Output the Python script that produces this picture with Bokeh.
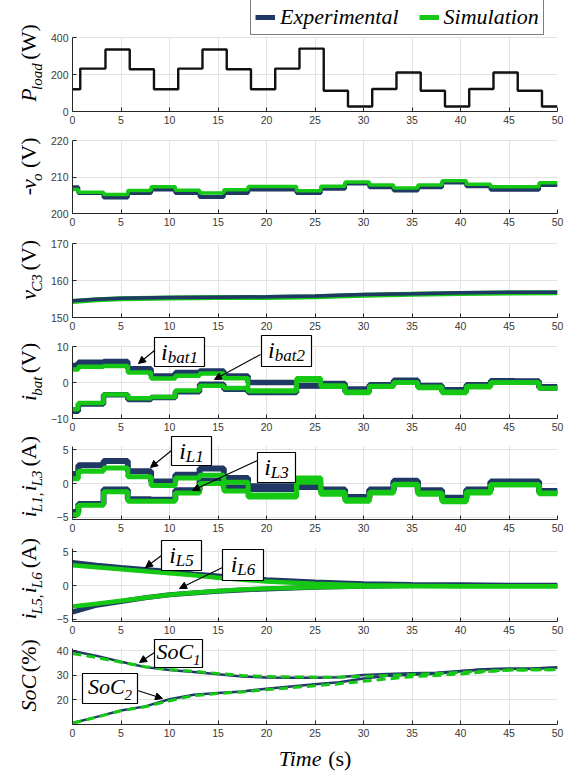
import math
from bokeh.plotting import figure
from bokeh.layouts import column, row
from bokeh.models import (Range1d, FixedTicker, Label, Arrow, NormalHead,
                          BoxAnnotation, Legend, LegendItem)
from bokeh.embed import file_html
from bokeh.resources import INLINE

# ------------------------------------------------------------------ data
X_TICKS = [0, 5, 10, 15, 20, 25, 30, 35, 40, 45, 50]

# load power steps
T_LOAD = [0, 0.8, 3.4, 5.9, 8.4, 10.9, 13.4, 15.9, 18.4, 20.9, 23.4, 25.9,
          28.4, 30.9, 33.4, 35.9, 38.4, 40.9, 43.4, 45.9, 48.4, 50]
P_LOAD = [120, 232, 335, 228, 120, 232, 335, 228, 120, 232, 340, 112,
          27, 122, 211, 112, 27, 122, 211, 112, 27]

# electrical step instants
T_EL = [0, 0.6, 3.2, 5.7, 8.1, 10.6, 13.1, 15.6, 18.1, 20.6, 23.1, 25.6,
        28.1, 30.6, 33.1, 35.6, 38.1, 40.6, 43.1, 45.6, 48.1, 50]
VO_EXP = [207.2, 205.6, 204.4, 205.6, 206.6, 205.6, 204.5, 205.6, 206.6, 206.6, 205.6,
          206.8, 208.2, 207.2, 206.3, 207.2, 208.5, 207.5, 206.5, 206.5, 207.8]
VO_SIM = [206.6, 205.8, 205.2, 206.3, 207.3, 206.4, 205.6, 206.5, 207.4, 207.4, 206.2,
          207.5, 208.6, 207.8, 207.0, 207.8, 209.0, 208.0, 207.3, 207.3, 208.4]

IBAT1_EXP = [4.7, 5.6, 5.8, 3.8, 1.8, 2.8, 3.2, 1.8, 0.0, 0.0, -0.8,
             -0.3, -1.8, -0.6, 0.6, -0.8, -2.0, -0.6, 0.5, 0.4, -1.2]
IBAT1_SIM = [3.6, 4.4, 4.6, 2.8, 1.1, 1.9, 2.5, 1.2, -2.2, -2.2, 1.2,
             -0.8, -2.6, -1.0, 0.0, -1.2, -2.6, -1.0, 0.0, 0.0, -1.5]
IBAT2_EXP = [-8.0, -6.0, -3.4, -4.7, -4.2, -2.6, -0.5, -1.9, -2.8, -2.8, -1.0,
             -1.0, -2.6, -0.8, 0.4, -1.2, -2.6, -1.0, 0.3, 0.2, -1.5]
IBAT2_SIM = [-7.4, -5.7, -3.3, -4.4, -4.0, -2.2, -0.9, -1.5, -2.4, -2.4, 0.6,
             -1.2, -2.9, -1.2, 0.0, -1.5, -2.9, -1.3, 0.0, 0.0, -1.6]

IL1_EXP = [1.4, 2.7, 3.3, 1.8, 0.3, 1.3, 2.2, 0.8, -0.4, -0.4, -0.5,
           -0.9, -2.0, -0.9, 0.4, -1.0, -2.1, -0.9, 0.3, 0.3, -1.1]
IL1_SIM = [0.7, 1.8, 2.3, 1.0, -0.3, 0.8, 1.2, 0.2, -1.7, -1.7, 0.8,
           -1.3, -2.4, -1.3, -0.1, -1.4, -2.5, -1.2, -0.2, -0.2, -1.4]
IL3_EXP = [-4.2, -3.0, -0.9, -2.3, -2.4, -1.0, 0.4, -0.6, -0.8, -0.8, -0.4,
           -1.1, -2.2, -1.1, 0.2, -1.2, -2.3, -1.1, 0.2, 0.2, -1.2]
IL3_SIM = [-4.6, -3.2, -1.2, -2.6, -2.6, -1.4, 0.0, -1.1, -2.0, -2.0, 0.2,
           -1.6, -2.6, -1.4, -0.2, -1.6, -2.7, -1.4, -0.2, -0.2, -1.5]

T_VC3 = [0, 2.5, 5, 10, 15, 20, 25, 30, 35, 40, 45, 50]
VC3_EXP = [154.5, 154.9, 155.2, 155.4, 155.5, 155.6, 155.8, 156.2, 156.4, 156.7, 156.8, 156.8]
VC3_SIM = [154.3, 154.8, 155.1, 155.3, 155.4, 155.4, 155.6, 156.0, 156.3, 156.5, 156.6, 156.7]

T_SMOOTH = [0, 2.5, 5, 7.5, 10, 12.5, 15, 17.5, 20, 25, 30, 35, 40, 45, 50]
IL5_EXP = [3.4, 3.0, 2.65, 2.35, 2.05, 1.7, 1.4, 1.1, 0.85, 0.5, 0.27, 0.15, 0.1, 0.05, 0.05]
IL5_SIM = [3.0, 2.7, 2.4, 2.1, 1.8, 1.5, 1.15, 0.85, 0.6, 0.25, 0.05, -0.05, -0.1, -0.1, -0.1]
IL6_EXP = [-3.9, -2.9, -2.35, -1.8, -1.35, -1.1, -0.85, -0.65, -0.5, -0.25, -0.1, 0.0, 0.0, 0.0, 0.0]
IL6_SIM = [-3.1, -2.7, -2.25, -1.8, -1.35, -1.05, -0.8, -0.6, -0.45, -0.25, -0.15, -0.1, -0.1, -0.1, -0.1]

T_SOC = [0, 2.5, 5, 7.5, 10, 12.5, 15, 17.5, 20, 22.5, 25, 27.5, 30, 32.5,
         35, 37.5, 40, 42.5, 45, 47.5, 50]
SOC1_EXP = [40.0, 38.0, 35.6, 33.4, 32.2, 31.4, 30.5, 29.6, 29.2, 29.1, 29.1,
            29.3, 30.2, 30.6, 30.9, 31.1, 31.8, 32.5, 32.7, 32.8, 33.2]
SOC1_SIM = [39.0, 37.3, 35.4, 33.6, 32.4, 31.7, 30.8, 30.0, 29.6, 29.4, 29.3,
            29.3, 29.6, 30.0, 30.4, 30.8, 31.3, 31.8, 32.2, 32.3, 32.4]
SOC2_EXP = [10.6, 13.1, 15.7, 17.4, 20.3, 22.1, 22.8, 23.5, 24.6, 25.5, 26.4,
            27.2, 28.8, 29.9, 30.3, 30.7, 31.7, 32.5, 32.7, 32.8, 33.2]
SOC2_SIM = [10.5, 13.0, 15.6, 17.2, 19.7, 21.8, 22.6, 23.3, 24.2, 25.0, 25.8,
            26.6, 27.6, 28.6, 29.5, 30.0, 30.6, 31.5, 32.2, 32.3, 32.4]

SERIES_NAMES = ["Experimental", "Simulation"]

# ------------------------------------------------------------------ style / layout
NAVY = "#1f3864"
GREEN = "#14c814"
GRID = "#e3e3e3"
AXC = "#262626"
SERIF = "Liberation Serif"
PAGE_W = 579
LAB_W = 46                 # width of the strip holding the rotated y labels
FRAME_L, FRAME_W = 72, 485
BASE_FIX = 0.33            # label anchor sits this many em above the drawn baseline

# page pixel layout: s = top of the row, dt/db = data top/bottom of the frame, e = end of row
# lc = vertical shift of the rotated y label centre
PANELS = [
    dict(s=0,   dt=37,  db=111, e=127, yr=(0, 400),     yt=[0, 200, 400],   lc=0),
    dict(s=127, dt=140, db=213, e=230, yr=(200, 220),   yt=[200, 210, 220], lc=0),
    dict(s=230, dt=243, db=317, e=334, yr=(150, 170),   yt=[150, 160, 170], lc=0),
    dict(s=334, dt=346, db=418, e=435, yr=(-10, 10),    yt=[-10, 0, 10],    lc=0),
    dict(s=435, dt=446, db=519, e=536, yr=(-5.3, 5.45), yt=[-5, 0, 5],      lc=5),
    dict(s=536, dt=548, db=621, e=638, yr=(-5.3, 5.45), yt=[-5, 0, 5],      lc=5),
    dict(s=638, dt=648, db=724, e=742, yr=(10, 41),     yt=[20, 30, 40],    lc=0),
]
PAGE_H = 777

REG_W = {'(': 333, ')': 333, ' ': 360, 'V': 722, 'W': 944, 'A': 722, '%': 833,
         's': 389, '-': 333, ',': 250}
ITA_W = {'P': 611, 'l': 278, 'o': 500, 'a': 500, 'd': 500, 'v': 444, 'C': 667,
         'i': 278, 'b': 500, 't': 278, 'L': 556, 'S': 500, 'T': 556, 'm': 722,
         'e': 444, ',': 250, ' ': 250}


def tw(s, size, italic):
    tab = ITA_W if italic else REG_W
    return sum(tab.get(c, 500) for c in s) * size / 1000.0


def seg_width(segs):
    return sum(tw(t, s, it) for t, s, it, _ in segs)


# converters from page pixels to a panel's data coordinates
def dx(px):
    return (px - FRAME_L) / FRAME_W * 50.0


def dy(pn, py):
    y0, y1 = pn['yr']
    return y1 - (py - pn['dt']) / (pn['db'] - pn['dt']) * (y1 - y0)


def rich(p, segs, px, py, fx, fy, rotated=False):
    adv = 0.0
    for text, size, italic, shift in segs:
        if text.strip():
            off = shift - BASE_FIX * size
            if rotated:
                x, y = px + off, py - adv
            else:
                x, y = px + adv, py + off
            p.add_layout(Label(x=fx(x), y=fy(y), text=text, text_font=SERIF,
                               text_font_size=f"{size}px",
                               text_font_style="italic" if italic else "normal",
                               text_color="black", text_baseline="alphabetic",
                               text_align="left",
                               angle=math.pi / 2 if rotated else 0))
        adv += tw(text, size, italic)


def plain_fig(w, h):
    p = figure(width=w, height=h, x_range=Range1d(0, w), y_range=Range1d(0, h),
               x_axis_location=None, y_axis_location=None,
               min_border=0, output_backend="svg", toolbar_location=None,
               background_fill_color="white", border_fill_color="white")
    p.outline_line_color = None
    p.grid.visible = False
    return p


def callout(p, pn, box, segs, base_off, arrow):
    l, t, r, b = box
    p.add_layout(BoxAnnotation(left=dx(l), right=dx(r), top=dy(pn, t), bottom=dy(pn, b),
                               fill_color="white", fill_alpha=1.0,
                               line_color="black", line_alpha=1.0, line_width=1.2))
    w = seg_width(segs)
    rich(p, segs, (l + r) / 2.0 - w / 2.0, t + base_off, dx, lambda v: dy(pn, v))
    (sx, sy), (ex, ey) = arrow
    p.add_layout(Arrow(end=NormalHead(size=7, line_color="black", fill_color="black"),
                       x_start=dx(sx), y_start=dy(pn, sy), x_end=dx(ex), y_end=dy(pn, ey),
                       line_color="black", line_width=1.1))


def make_fig(pn):
    y0, y1 = pn['yr']
    y_end = dy(pn, pn['s'])
    p = figure(frame_width=FRAME_W, frame_height=pn['db'] - pn['s'],
               min_border_left=FRAME_L - LAB_W,
               min_border_right=PAGE_W - FRAME_L - FRAME_W,
               min_border_top=0, min_border_bottom=pn['e'] - pn['db'],
               x_range=Range1d(0, 50), y_range=Range1d(y0, y_end),
               output_backend="svg", toolbar_location=None,
               background_fill_color="white", border_fill_color="white")
    p.outline_line_color = None
    p.xaxis.ticker = FixedTicker(ticks=X_TICKS)
    p.yaxis.ticker = FixedTicker(ticks=pn['yt'])
    p.yaxis.bounds = (y0, y1)
    for ax in p.axis:
        ax.axis_line_color = AXC
        ax.major_tick_line_color = AXC
        ax.major_tick_in = 4
        ax.major_tick_out = 0
        ax.minor_tick_line_color = None
        ax.major_label_text_font = "Liberation Sans"
        ax.major_label_text_font_size = "10.5px"
        ax.major_label_text_color = "#3a3a3a"
    p.xaxis.major_label_standoff = 4
    p.yaxis.major_label_standoff = 4
    p.grid.grid_line_color = GRID
    # blank strip above the data area (room for callouts / legend)
    p.add_layout(BoxAnnotation(left=0, right=50, bottom=dy(pn, pn['dt'] - 0.6), top=y_end,
                               fill_color="white", fill_alpha=1.0, line_color=None,
                               level="glyph"))
    return p


def label_fig(pn, segs):
    h = pn['e'] - pn['s']
    p = plain_fig(LAB_W, h)
    total = seg_width(segs)
    center = (pn['dt'] + pn['db']) / 2.0 + pn['lc'] - pn['s']
    rich(p, segs, 35, center + total / 2.0, lambda v: v, lambda v: h - v, rotated=True)
    return p


def step_xy(t, v):
    return t, list(v) + [v[-1]]


figs = [make_fig(pn) for pn in PANELS]
YLABELS = [
    [("P", 22, True, 0), ("load", 15, True, 6), (" ", 22, False, 0), ("(W)", 22, False, 0)],
    [("-", 22, False, 0), ("v", 22, True, 0), ("o", 15, True, 6), (" ", 22, False, 0), ("(V)", 22, False, 0)],
    [("v", 22, True, 0), ("C3", 15, True, 6), (" ", 22, False, 0), ("(V)", 22, False, 0)],
    [("i", 22, True, 0), ("bat", 15, True, 6), (" ", 22, False, 0), ("(V)", 22, False, 0)],
    [("i", 22, True, 0), ("L1,", 15, True, 6), (" ", 22, True, 0),
     ("i", 22, True, 0), ("L3", 15, True, 6), (" ", 22, False, 0), ("(A)", 22, False, 0)],
    [("i", 22, True, 0), ("L5,", 15, True, 6), (" ", 22, True, 0),
     ("i", 22, True, 0), ("L6", 15, True, 6), (" ", 22, False, 0), ("(A)", 22, False, 0)],
    [("SoC", 22, True, 0), (" ", 30, False, 0), ("(%)", 22, False, 0)],
]
labs = [label_fig(pn, segs) for pn, segs in zip(PANELS, YLABELS)]

# ---- panel 1: load power
p = figs[0]
x, y = step_xy(T_LOAD, P_LOAD)
p.step(x, y, mode="after", line_color="#111111", line_width=2.4)
NO_DATA = [float("nan")]
r_exp = p.line(x=NO_DATA, y=NO_DATA, line_color=NAVY, line_width=5)
r_sim = p.line(x=NO_DATA, y=NO_DATA, line_color=GREEN, line_width=5)
legend = Legend(items=[LegendItem(label=SERIES_NAMES[0], renderers=[r_exp]),
                       LegendItem(label=SERIES_NAMES[1], renderers=[r_sim])],
                orientation="horizontal", location=(178, 76), margin=0,
                padding=4, spacing=20, glyph_width=20, glyph_height=20,
                label_standoff=5,
                label_text_font=SERIF, label_text_font_style="italic",
                label_text_font_size="22px", label_text_color="black",
                border_line_color="black", border_line_width=1.5,
                background_fill_color="white", background_fill_alpha=1.0)
p.add_layout(legend)

# ---- panel 2: output voltage
p = figs[1]
for v, c, lw in ((VO_EXP, NAVY, 4), (VO_SIM, GREEN, 3.5)):
    x, y = step_xy(T_EL, v)
    p.step(x, y, mode="after", line_color=c, line_width=lw)

# ---- panel 3: capacitor voltage
p = figs[2]
p.line(T_VC3, VC3_SIM, line_color=GREEN, line_width=5)
p.line(T_VC3, VC3_EXP, line_color=NAVY, line_width=3.5)

# ---- panel 4: battery currents
p = figs[3]
for v, c, lw in ((IBAT1_EXP, NAVY, 5.5), (IBAT2_EXP, NAVY, 5.5), (IBAT1_SIM, GREEN, 4.5), (IBAT2_SIM, GREEN, 4.5)):
    x, y = step_xy(T_EL, v)
    p.step(x, y, mode="after", line_color=c, line_width=lw)
callout(p, PANELS[3], (154, 337, 204, 366), [("i", 24, True, 0), ("bat1", 17, True, 4)], 22,
        ((154, 350), (138, 363)))
callout(p, PANELS[3], (261, 335, 311, 366), [("i", 24, True, 0), ("bat2", 17, True, 4)], 22,
        ((260, 354), (214, 379)))

# ---- panel 5: inductor currents L1, L3
p = figs[4]
for v, c, lw in ((IL1_EXP, NAVY, 6), (IL3_EXP, NAVY, 6), (IL1_SIM, GREEN, 5), (IL3_SIM, GREEN, 5)):
    x, y = step_xy(T_EL, v)
    p.step(x, y, mode="after", line_color=c, line_width=lw)
callout(p, PANELS[4], (171, 436, 211, 465), [("i", 24, True, 0), ("L1", 17, True, 4)], 22,
        ((171, 450), (150, 467)))
callout(p, PANELS[4], (257, 452, 295, 482), [("i", 24, True, 0), ("L3", 17, True, 4)], 22,
        ((257, 460), (192, 490)))

# ---- panel 6: inductor currents L5, L6
p = figs[5]
for v, c, lw in ((IL5_EXP, NAVY, 5), (IL6_EXP, NAVY, 5), (IL5_SIM, GREEN, 4.5), (IL6_SIM, GREEN, 4.5)):
    p.line(T_SMOOTH, v, line_color=c, line_width=lw)
callout(p, PANELS[5], (161, 540, 201, 570), [("i", 24, True, 0), ("L5", 17, True, 4)], 22,
        ((161, 555), (145, 567)))
callout(p, PANELS[5], (222, 549, 263, 580), [("i", 24, True, 0), ("L6", 17, True, 4)], 22,
        ((222, 567), (179, 588)))

# ---- panel 7: state of charge
p = figs[6]
for v in (SOC1_EXP, SOC2_EXP):
    p.line(T_SOC, v, line_color=NAVY, line_width=2.5)
for v in (SOC1_SIM, SOC2_SIM):
    p.line(T_SOC, v, line_color=GREEN, line_width=3, line_dash="9 5")
callout(p, PANELS[6], (154, 639, 202, 667), [("SoC", 22, True, 0), ("1", 15, True, 6)], 19.5,
        ((154, 652), (139, 662)))
callout(p, PANELS[6], (82, 673, 137, 703), [("SoC", 22, True, 0), ("2", 15, True, 6)], 20.5,
        ((137, 690), (162, 698)))

# ---- x axis title strip
last = PANELS[-1]
th = PAGE_H - last['e']
tfig = plain_fig(PAGE_W, th)
tsegs = [("Time", 22, True, 0), (" ", 22, True, 0), ("(s)", 22, False, 0)]
rich(tfig, tsegs, FRAME_L + FRAME_W / 2.0 - seg_width(tsegs) / 2.0, 765 - last['e'],
     lambda v: v, lambda v: th - v)

rows = [row(lb, f, spacing=0) for lb, f in zip(labs, figs)]
layout = column(*rows, tfig, spacing=0)
open("out.html", "w").write(file_html(layout, INLINE))
